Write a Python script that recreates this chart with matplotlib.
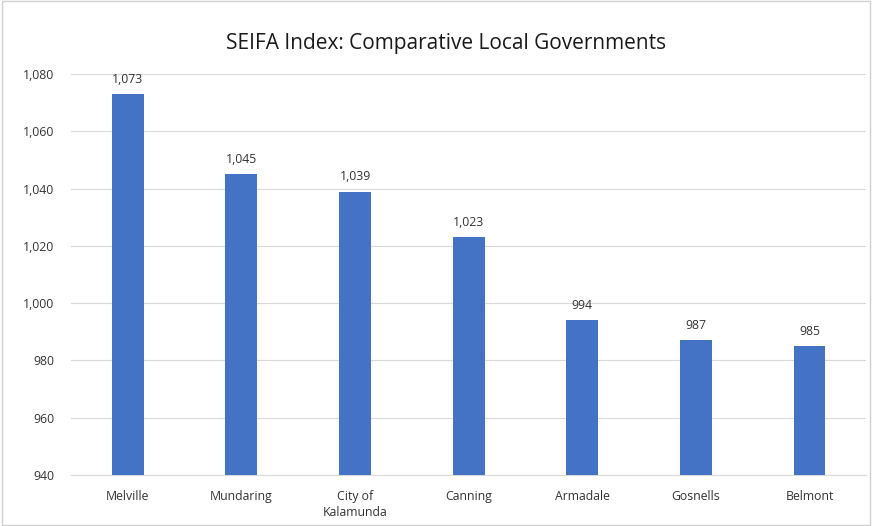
import matplotlib
matplotlib.use("Agg")
import matplotlib.pyplot as plt

categories = ["Melville", "Mundaring", "City of\nKalamunda", "Canning", "Armadale", "Gosnells", "Belmont"]
values = [1073, 1045, 1039, 1023, 994, 987, 985]
yticks = [940, 960, 980, 1000, 1020, 1040, 1060, 1080]

plt.rcParams['font.family'] = ['Open Sans', 'DejaVu Sans']

fig = plt.figure(figsize=(8.72, 5.26), dpi=100)
ax = fig.add_axes([0.0814, 0.097, 0.912, 0.762])
x = list(range(len(categories)))
ax.bar(x, values, width=0.28, color='#4472C4', zorder=3)
for xi, v in zip(x, values):
    ax.text(xi, v + 3, f"{v:,}", ha='center', va='bottom', fontsize=8.8, color='#333333')
ax.set_ylim(940, 1080)
ax.set_xlim(-0.5, len(categories) - 0.5)
ax.set_yticks(yticks)
ax.set_yticklabels([f"{t:,}" for t in yticks], fontsize=8.8, color='#333333')
ax.set_xticks(x)
ax.set_xticklabels(categories, fontsize=8.8, color='#333333', linespacing=1.3)
ax.tick_params(axis='y', length=0, pad=12)
ax.tick_params(axis='x', length=0, pad=11)
ax.grid(axis='y', color='#D9D9D9', linewidth=0.8, zorder=0)
for s in ['top', 'right', 'left']:
    ax.spines[s].set_visible(False)
ax.spines['bottom'].set_color('#D9D9D9')
fig.text(0.511, 0.918, "SEIFA Index: Comparative Local Governments", ha='center', va='center',
         fontsize=15, color='#1a1a1a')
fig.patches.append(plt.Rectangle((0.002, 0.002), 0.996, 0.996, transform=fig.transFigure,
                                 fill=False, edgecolor='#D0D0D0', linewidth=1))
fig.savefig("out.png", dpi=100)
